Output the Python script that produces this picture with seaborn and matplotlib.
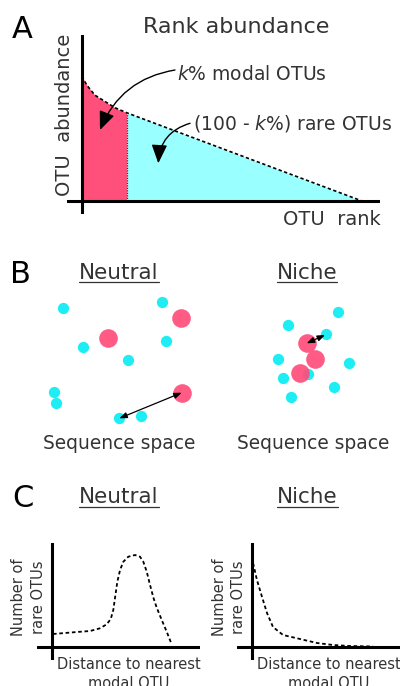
import numpy as np
import pandas as pd
import matplotlib
matplotlib.use("Agg")
import matplotlib.pyplot as plt
from matplotlib.lines import Line2D
import seaborn as sns

# ---------------- data ----------------
# Panel A: rank-abundance curve (rank in % of OTUs, relative abundance)
rank = [0, 1.7, 4.6, 8.2, 11.8, 16, 100]
abundance = [0.99, 0.92, 0.84, 0.79, 0.74, 0.70, 0.0]
k_split = 16  # k% modal OTUs

# Panel B: positions in "sequence space"
neutral_rare_x = [2.33, 12.23, 4.33, 8.83, 12.6, 1.4, 1.6, 7.93, 10.1]
neutral_rare_y = [12.17, 12.83, 8.27, 7.0, 8.93, 3.83, 2.67, 1.17, 1.4]
neutral_modal_x = [6.83, 14.1, 14.17]
neutral_modal_y = [9.17, 11.17, 3.73]
neutral_arrow = [(7.93, 1.17), (14.17, 3.73)]

niche_rare_x = [10.83, 5.83, 9.6, 4.83, 11.93, 5.33, 7.83, 10.4, 6.1]
niche_rare_y = [11.83, 10.5, 9.57, 7.1, 6.73, 5.17, 5.57, 4.33, 3.33]
niche_modal_x = [7.67, 8.5, 7.0]
niche_modal_y = [8.67, 7.07, 5.73]
niche_arrow = [(7.67, 8.67), (9.5, 9.5)]

# Panel C: number of rare OTUs vs distance to nearest modal OTU
neutral_dist = [0.01, 0.17, 0.257, 0.323, 0.368, 0.395, 0.412, 0.423, 0.439, 0.457,
                0.479, 0.512, 0.557, 0.59, 0.612, 0.635, 0.657, 0.679, 0.701,
                0.735, 0.768, 0.801]
neutral_count = [0.125, 0.145, 0.155, 0.182, 0.222, 0.275, 0.365, 0.482, 0.648,
                 0.765, 0.848, 0.898, 0.915, 0.898, 0.848, 0.748, 0.615, 0.49,
                 0.39, 0.265, 0.148, 0.022]
niche_dist = [0.007, 0.033, 0.067, 0.1, 0.14, 0.207, 0.32, 0.433, 0.54, 0.653, 0.807]
niche_count = [0.835, 0.665, 0.495, 0.335, 0.195, 0.115, 0.075, 0.035, 0.015, 0.005, 0.0]

# ---------------- style ----------------
sns.set_theme(style="white")
plt.rcParams['font.family'] = ['DejaVu Sans']
plt.rcParams['mathtext.fontset'] = 'dejavusans'

RED = "#FF4F7B"
LCYAN = "#99FFFF"
DOT_CYAN = "#1EEEF4"
DOT_RED = "#FF4D7A"
TXT = "#333333"

W, H = 400, 686
fig = plt.figure(figsize=(W / 100, H / 100), dpi=100)


def px_axes(x0, y0, x1, y1):
    ax = fig.add_axes([x0 / W, 1 - y1 / H, (x1 - x0) / W, (y1 - y0) / H])
    ax.set_axis_off()
    return ax


def ftext(x, y, s, **kw):
    kw.setdefault('color', TXT)
    return fig.text(x / W, 1 - y / H, s, **kw)


AXLW = 2.2
dash = (0, (2.0, 1.5))

# ---------------- Panel A ----------------
axA = px_axes(67, 35, 380, 214)
axA.set_xlim((67 - 82) / 2.8, (380 - 82) / 2.8)
axA.set_ylim((201 - 214) / 126, (201 - 35) / 126)
dfA = pd.DataFrame({'rank': rank, 'abundance': abundance})
modal = dfA[dfA['rank'] <= k_split]
rare = dfA[dfA['rank'] >= k_split]
axA.fill_between(modal['rank'], modal['abundance'], color=RED, lw=0)
axA.fill_between(rare['rank'], rare['abundance'], color=LCYAN, lw=0)
sns.lineplot(data=dfA, x='rank', y='abundance', ax=axA, color='black',
             lw=1.2, linestyle=dash)
split_ab = dfA.loc[dfA['rank'] == k_split, 'abundance'].iloc[0]
axA.vlines(k_split, 0, split_ab, color='#333333', lw=0.9, linestyles=(0, (1, 1)))
axA.axvline(0, color='black', lw=AXLW)
axA.axhline(0, color='black', lw=AXLW)
axA.set_axis_off()

arrow_kw = dict(arrowstyle='-|>,head_length=0.95,head_width=0.4', color='black',
                lw=1.0, shrinkA=0, shrinkB=0, mutation_scale=12)
axA.annotate('', xy=((100 - 82) / 2.8, (201 - 130) / 126),
             xytext=((175 - 82) / 2.8, (201 - 70) / 126),
             arrowprops=dict(connectionstyle='arc3,rad=0.28', **arrow_kw))
axA.annotate('', xy=((158.3 - 82) / 2.8, (201 - 163.3) / 126),
             xytext=((190 - 82) / 2.8, (201 - 123.3) / 126),
             arrowprops=dict(connectionstyle='arc3,rad=0.35', **arrow_kw))

ftext(12, 38, 'A', fontsize=22, color='black', ha='left', va='baseline')
ftext(236, 33, 'Rank abundance', fontsize=16, ha='center', va='baseline')
ftext(177, 80, r'$\mathit{k\%}$ modal OTUs', fontsize=13.5, ha='left', va='baseline')
ftext(192.7, 130, r'(100 - $\mathit{k\%}$) rare OTUs', fontsize=13.5, ha='left',
      va='baseline')
ftext(332, 225, 'OTU  rank', fontsize=14, ha='center', va='baseline')
ftext(64.5, 115, 'OTU  abundance', fontsize=14, ha='center', va='center', rotation=90)

# ---------------- Panel B ----------------
dbl_kw = dict(arrowstyle='<|-|>,head_length=0.9,head_width=0.35', color='black',
              lw=0.9, shrinkA=0, shrinkB=0, mutation_scale=5)
for (x0, x1), rx, ry, mx, my, arr in [
        ((40, 200), neutral_rare_x, neutral_rare_y, neutral_modal_x, neutral_modal_y, neutral_arrow),
        ((230, 390), niche_rare_x, niche_rare_y, niche_modal_x, niche_modal_y, niche_arrow)]:
    ax = px_axes(x0, 290, x1, 430)
    ax.set_xlim(0, 16)
    ax.set_ylim(0, 14)
    sns.scatterplot(x=rx, y=ry, ax=ax, color=DOT_CYAN, s=66, linewidth=0,
                    clip_on=False, zorder=2)
    sns.scatterplot(x=mx, y=my, ax=ax, color=DOT_RED, s=180, linewidth=0,
                    alpha=0.92, clip_on=False, zorder=3)
    ax.annotate('', xy=arr[1], xytext=arr[0], arrowprops=dbl_kw, zorder=4)
    ax.set_axis_off()

headers = []
ftext(10, 283, 'B', fontsize=22, color='black', ha='left', va='baseline')
headers.append(ftext(119, 279, 'Neutral', fontsize=15.5, ha='center', va='baseline'))
headers.append(ftext(307, 279, 'Niche', fontsize=15.5, ha='center', va='baseline'))
ftext(119, 449, 'Sequence space', fontsize=13.4, ha='center', va='baseline')
ftext(313.5, 449, 'Sequence space', fontsize=13.4, ha='center', va='baseline')

# ---------------- Panel C ----------------
for (x0, x1, yaxis_px), dist, cnt in [((37, 200, 51.5), neutral_dist, neutral_count),
                                      ((237, 400, 252), niche_dist, niche_count)]:
    ax = px_axes(x0, 543, x1, 660)
    ax.set_xlim((x0 - yaxis_px) / 150, (x1 - yaxis_px) / 150)
    ax.set_ylim((646.5 - 660) / 100, (646.5 - 543) / 100)
    sns.lineplot(x=dist, y=cnt, ax=ax, color='black', lw=1.3, linestyle=dash)
    ax.axvline(0, color='black', lw=AXLW)
    ax.axhline(0, color='black', lw=AXLW)
    ax.set_axis_off()

ftext(12, 507, 'C', fontsize=22, color='black', ha='left', va='baseline')
headers.append(ftext(119, 503, 'Neutral', fontsize=15.5, ha='center', va='baseline'))
headers.append(ftext(307.5, 503, 'Niche', fontsize=15.5, ha='center', va='baseline'))
for cx in (28.5, 228.7):
    ftext(cx, 597, 'Number of\nrare OTUs', fontsize=10.5, ha='center', va='center',
          rotation=90, linespacing=1.35)
for cx in (128.5, 328.5):
    ftext(cx, 657, 'Distance to nearest\nmodal OTU', fontsize=10.5, ha='center',
          va='top', linespacing=1.35)

# underline the panel headers, measured from the rendered text
fig.canvas.draw()
r = fig.canvas.get_renderer()
for t in headers:
    bb = t.get_window_extent(renderer=r)
    ybase = t.get_position()[1] - 3.5 / H
    fig.add_artist(Line2D([bb.x0 / W, bb.x1 / W], [ybase, ybase],
                          transform=fig.transFigure, color=TXT, lw=0.9))

fig.savefig('out.png', dpi=100)
